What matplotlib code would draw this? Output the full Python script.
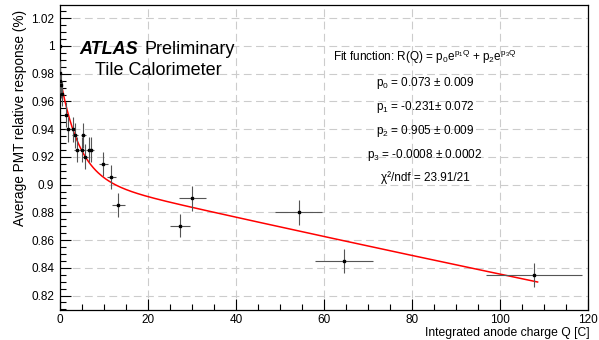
import numpy as np
import matplotlib
matplotlib.use("Agg")
import matplotlib.pyplot as plt
from matplotlib.ticker import MultipleLocator, FuncFormatter

plt.rcParams['font.family'] = ['Liberation Sans', 'DejaVu Sans']
plt.rcParams['mathtext.fontset'] = 'custom'
plt.rcParams['mathtext.rm'] = 'Liberation Sans'
plt.rcParams['mathtext.it'] = 'Liberation Sans:italic'
plt.rcParams['mathtext.bf'] = 'Liberation Sans:bold'

charge = [0.0, 0.0, 0.1, 0.3, 0.5, 1.4, 1.75, 2.9, 3.4, 3.8, 5.0, 5.3, 5.7, 6.5, 7.0,
          9.9, 11.7, 13.3, 27.3, 30.1, 54.2, 64.6, 107.6]
charge_err = [0.0, 0.1, 0.15, 0.2, 0.25, 0.4, 0.5, 0.6, 0.6, 0.6, 0.6, 0.6, 0.6, 0.6, 0.7,
              1.0, 1.1, 1.45, 2.2, 3.0, 5.4, 6.6, 10.9]
response = [1.0, 0.9805, 0.975, 0.9716, 0.9656, 0.9505, 0.940, 0.940, 0.9355, 0.925, 0.925,
            0.9355, 0.920, 0.925, 0.925, 0.915, 0.9054, 0.8855, 0.8705, 0.890, 0.880, 0.845, 0.835]
response_err = [0.0, 0.009, 0.009, 0.009, 0.009, 0.009, 0.009, 0.009, 0.009, 0.009, 0.009,
                0.009, 0.009, 0.009, 0.009, 0.0088, 0.0084, 0.0087, 0.008, 0.009, 0.009, 0.0087, 0.0087]

# fit parameters shown on the plot
p0, p1, p2, p3 = 0.073, -0.231, 0.905, -0.0008
fit_range = (0.0, 108.5)

W, H = 599, 340
fig = plt.figure(figsize=(W / 100, H / 100), dpi=100)
ax = fig.add_axes([0.100, 0.088, 0.882, 0.897])

def px(x, y):
    # figure pixel (from top-left) -> figure fraction
    return x / W, 1 - y / H

ax.errorbar(charge, response, xerr=charge_err, yerr=response_err, fmt='s', color='black',
            ms=2.0, ecolor='#555555', elinewidth=0.8, capsize=0, zorder=3)

q = np.linspace(fit_range[0], fit_range[1], 400)
ax.plot(q, p0 * np.exp(p1 * q) + p2 * np.exp(p3 * q), color='red', lw=1.1, zorder=2)

ax.set_xlim(0, 120)
ax.set_ylim(0.8095, 1.0295)
ax.xaxis.set_major_locator(MultipleLocator(20))
ax.xaxis.set_minor_locator(MultipleLocator(5))
ax.yaxis.set_major_locator(MultipleLocator(0.02))
ax.yaxis.set_minor_locator(MultipleLocator(0.005))
ax.yaxis.set_major_formatter(FuncFormatter(lambda v, pos: '%g' % round(v, 3)))
ax.tick_params(which='both', direction='in', top=False, right=False, labelsize=8.5)
ax.tick_params(which='major', length=8, width=0.8)
ax.tick_params(which='minor', length=4, width=0.8)
ax.tick_params(axis='x', pad=3)
ax.tick_params(axis='y', pad=4)
ax.grid(True, which='major', color='#cccccc', linestyle=(0, (7, 4)), lw=0.8)
ax.set_axisbelow(True)
for s in ax.spines.values():
    s.set_linewidth(0.9)

fig.text(*px(20, 10), 'Average PMT relative response (%)', fontsize=9.8, rotation=90,
         ha='center', va='top')
fig.text(*px(590, 333), 'Integrated anode charge Q [C]', fontsize=8.7, ha='right', va='center')

fig.text(*px(138, 54), 'ATLAS', fontsize=13, fontweight='bold', style='italic',
         ha='right', va='baseline')
fig.text(*px(144, 54), 'Preliminary', fontsize=13, ha='left', va='baseline')
fig.text(*px(158, 75), 'Tile Calorimeter', fontsize=13, ha='center', va='baseline')

tx = 425
fs = 8.5
fig.text(*px(tx, 61), r'Fit function: R(Q) = p$_\mathrm{0}$e$^{\mathrm{p_1Q}}$ + p$_\mathrm{2}$e$^{\mathrm{p_3Q}}$',
         fontsize=fs, ha='center', va='baseline')
fig.text(*px(tx, 86), r'p$_\mathrm{0}$ = 0.073 $\pm$ 0.009', fontsize=fs, ha='center', va='baseline')
fig.text(*px(tx, 110), r'p$_\mathrm{1}$ = -0.231$\pm$ 0.072', fontsize=fs, ha='center', va='baseline')
fig.text(*px(tx, 134), r'p$_\mathrm{2}$ = 0.905 $\pm$ 0.009', fontsize=fs, ha='center', va='baseline')
fig.text(*px(tx, 158), r'p$_\mathrm{3}$ = -0.0008 $\pm$ 0.0002', fontsize=fs, ha='center', va='baseline')
fig.text(*px(tx, 181), 'χ²/ndf = 23.91/21', fontsize=fs, ha='center', va='baseline')

fig.savefig('out.png', dpi=100)
